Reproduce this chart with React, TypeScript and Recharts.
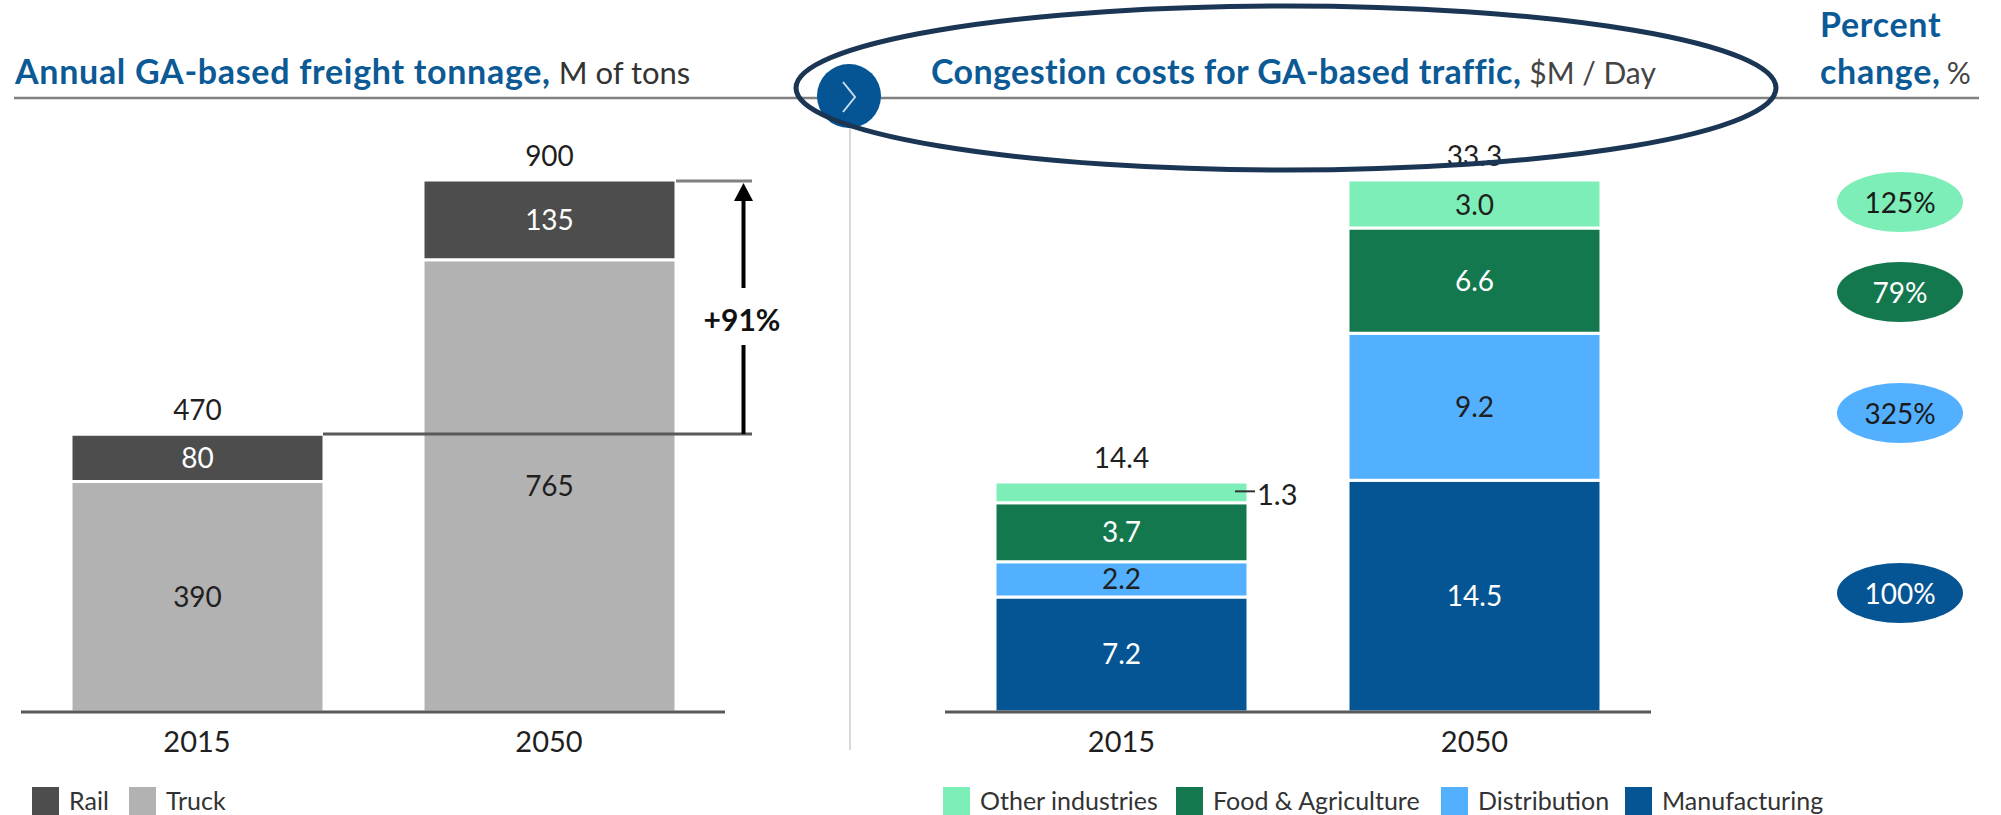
import { BarChart, Bar, XAxis, YAxis, LabelList, Legend } from 'recharts';

const FONT = 'Lato, "Noto Sans", sans-serif';

const years = ['2015', '2050'];

// left chart, M of tons
const truck = [390, 765];
const rail = [80, 135];
const tonnageTotals = [470, 900];

// right chart, $M / day
const manufacturing = [7.2, 14.5];
const distribution = [2.2, 9.2];
const food = [3.7, 6.6];
const other = [1.3, 3.0];
const costTotals = [14.4, 33.3];

const percentLabels = ['125%', '79%', '325%', '100%'];

const tonnageData = years.map((year, i) => ({
  year,
  truck: truck[i],
  rail: rail[i],
  total: tonnageTotals[i],
}));

const costData = years.map((year, i) => ({
  year,
  manufacturing: manufacturing[i],
  distribution: distribution[i],
  food: food[i],
  other: other[i],
  total: costTotals[i],
}));

const COLORS = {
  rail: '#4d4d4d',
  truck: '#b2b2b2',
  manufacturing: '#055493',
  distribution: '#52b0ff',
  food: '#13784e',
  other: '#7deeb7',
};

const bubbleColors = [COLORS.other, COLORS.food, COLORS.distribution, COLORS.manufacturing];
const bubbleText = ['#1a1a1a', '#ffffff', '#1a1a1a', '#ffffff'];
const bubbleY = [202, 292, 413, 593];

const TITLE_BLUE = '#0b5a96';
const TEXT = '#1f1f1f';

// value labels use one digit only on the right chart
const fmt = (v: any) => (typeof v === 'number' ? v.toFixed(1) : v);

function TotalLabel({ x, y, width, value }: any) {
  return (
    <text x={x + width / 2} y={y - 25} textAnchor="middle" dominantBaseline="central" fontSize={28} fontFamily={FONT} fill={TEXT}>
      {value}
    </text>
  );
}

// the 2015 "other" slice is too thin, its label sits outside with a leader
function OtherLabel({ x, y, width, height, value, index }: any) {
  if (index === 0) {
    return (
      <g>
        <line x1={x + width - 13} x2={x + width + 7} y1={y + height / 2 - 1} y2={y + height / 2 - 1} stroke="#333" strokeWidth={2} />
        <text x={x + width + 9} y={y + height / 2 + 1} dominantBaseline="central" fontSize={29} fontFamily={FONT} fill={TEXT}>
          {fmt(value)}
        </text>
      </g>
    );
  }
  return (
    <text x={x + width / 2} y={y + height / 2} textAnchor="middle" dominantBaseline="central" fontSize={28} fontFamily={FONT} fill={TEXT}>
      {fmt(value)}
    </text>
  );
}

function LegendRow({ items }: { items: { name: string; color: string; left: number }[] }) {
  return (
    <div style={{ position: 'relative', height: 28, fontFamily: FONT, fontSize: 25, color: '#333' }}>
      {items.map(item => (
        <div key={item.name} style={{ position: 'absolute', left: item.left, top: 0, height: 28, display: 'flex', alignItems: 'flex-start', whiteSpace: 'nowrap' }}>
          <span style={{ width: 27, height: 28, background: item.color, display: 'inline-block', marginRight: 10 }} />
          <span style={{ height: 26, lineHeight: '26px', display: 'inline-block' }}>{item.name}</span>
        </div>
      ))}
    </div>
  );
}

const leftLegend = [
  { name: 'Rail', color: COLORS.rail, left: 32 },
  { name: 'Truck', color: COLORS.truck, left: 129 },
];

const rightLegend = [
  { name: 'Other industries', color: COLORS.other, left: 43 },
  { name: 'Food & Agriculture', color: COLORS.food, left: 276 },
  { name: 'Distribution', color: COLORS.distribution, left: 541 },
  { name: 'Manufacturing', color: COLORS.manufacturing, left: 725 },
];

const axisTick = { fontSize: 29, fontFamily: FONT, fill: TEXT };
const inBar = (fill: string) => ({ fontSize: 28, fontFamily: FONT, fill });

export default function App() {
  return (
    <div style={{ position: 'fixed', left: 0, top: 0, width: 2001, height: 815, overflow: 'hidden', background: '#fff' }}>
      <div style={{ position: 'absolute', left: 0, top: 0 }}>
        <BarChart width={760} height={815} data={tonnageData} margin={{ top: 180, right: 35, bottom: 0, left: 21 }} barSize={253}>
          <XAxis dataKey="year" height={103} tickLine={false} tick={axisTick} tickMargin={13} stroke="#595959" strokeWidth={3} />
          <YAxis hide domain={[0, 900]} />
          <Legend
            layout="horizontal"
            verticalAlign="middle"
            wrapperStyle={{ position: 'absolute', left: 0, top: 787, width: 760 }}
            content={() => <LegendRow items={leftLegend} />}
          />
          <Bar dataKey="truck" stackId="a" fill={COLORS.truck} stroke="#fff" strokeWidth={3} isAnimationActive={false}>
            <LabelList dataKey="truck" position="center" style={inBar(TEXT)} />
          </Bar>
          <Bar dataKey="rail" stackId="a" fill={COLORS.rail} stroke="#fff" strokeWidth={3} isAnimationActive={false}>
            <LabelList dataKey="rail" position="center" style={inBar('#fff')} />
            <LabelList dataKey="total" content={TotalLabel} />
          </Bar>
        </BarChart>
      </div>

      <div style={{ position: 'absolute', left: 900, top: 0 }}>
        <BarChart width={800} height={815} data={costData} margin={{ top: 180, right: 49, bottom: 0, left: 45 }} barSize={253}>
          <XAxis dataKey="year" height={103} tickLine={false} tick={axisTick} tickMargin={13} stroke="#595959" strokeWidth={3} />
          <YAxis hide domain={[0, 33.3]} />
          <Legend
            layout="horizontal"
            verticalAlign="middle"
            wrapperStyle={{ position: 'absolute', left: 0, top: 787, width: 1000 }}
            content={() => <LegendRow items={rightLegend} />}
          />
          <Bar dataKey="manufacturing" stackId="a" fill={COLORS.manufacturing} stroke="#fff" strokeWidth={3} isAnimationActive={false}>
            <LabelList dataKey="manufacturing" position="center" formatter={fmt} style={inBar('#fff')} />
          </Bar>
          <Bar dataKey="distribution" stackId="a" fill={COLORS.distribution} stroke="#fff" strokeWidth={3} isAnimationActive={false}>
            <LabelList dataKey="distribution" position="center" formatter={fmt} style={inBar(TEXT)} />
          </Bar>
          <Bar dataKey="food" stackId="a" fill={COLORS.food} stroke="#fff" strokeWidth={3} isAnimationActive={false}>
            <LabelList dataKey="food" position="center" formatter={fmt} style={inBar('#fff')} />
          </Bar>
          <Bar dataKey="other" stackId="a" fill={COLORS.other} stroke="#fff" strokeWidth={3} isAnimationActive={false}>
            <LabelList dataKey="other" content={OtherLabel} />
            <LabelList dataKey="total" content={TotalLabel} />
          </Bar>
        </BarChart>
      </div>

      {/* headers, bracket, bubbles and the hand drawn ellipse */}
      <svg width={2001} height={815} style={{ position: 'absolute', left: 0, top: 0, pointerEvents: 'none' }} fontFamily={FONT}>
        <line x1={14} x2={1979} y1={98} y2={98} stroke="#808080" strokeWidth={2.5} />
        <line x1={850} x2={850} y1={128} y2={750} stroke="#d9d9d9" strokeWidth={2} />
        <circle cx={849} cy={96} r={32} fill={COLORS.manufacturing} />
        <polyline points="843,82 855,97 843,112" fill="none" stroke="#c9dcec" strokeWidth={2} />

        <text x={15} y={84} fontSize={34} fill={TITLE_BLUE} fontWeight={700} letterSpacing={0.7}>
          Annual GA-based freight tonnage,
          <tspan fontWeight={400} fill="#333" dx={8} fontSize={31} letterSpacing={0}>M of tons</tspan>
        </text>
        <text x={931} y={84} fontSize={34} fill={TITLE_BLUE} fontWeight={700} letterSpacing={0.4}>
          Congestion costs for GA-based traffic,
          <tspan fontWeight={400} fill="#444" dx={8} fontSize={30} letterSpacing={0}>$M / Day</tspan>
        </text>
        <text x={1820} y={37} fontSize={34} fill={TITLE_BLUE} fontWeight={700} letterSpacing={0.7}>Percent</text>
        <text x={1820} y={84} fontSize={34} fill={TITLE_BLUE} fontWeight={700} letterSpacing={0.7}>
          change,
          <tspan fontWeight={400} fill="#444" dx={6} fontSize={30} letterSpacing={0}>%</tspan>
        </text>

        {/* +91% bracket */}
        <line x1={676} x2={752} y1={181} y2={181} stroke="#808080" strokeWidth={3} />
        <line x1={323} x2={752} y1={434} y2={434} stroke="#595959" strokeWidth={3} />
        <line x1={743.5} x2={743.5} y1={198} y2={288} stroke="#000" strokeWidth={4} />
        <line x1={743.5} x2={743.5} y1={345} y2={434} stroke="#000" strokeWidth={4} />
        <polygon points="743.5,183 734,201 753,201" fill="#000" />
        <text x={742} y={319} textAnchor="middle" dominantBaseline="central" fontSize={30} fontWeight={700} fill="#111">+91%</text>

        {percentLabels.map((label, i) => (
          <g key={label}>
            <ellipse cx={1900} cy={bubbleY[i]} rx={63} ry={30} fill={bubbleColors[i]} />
            <text x={1900} y={bubbleY[i]} textAnchor="middle" dominantBaseline="central" fontSize={28} fill={bubbleText[i]}>{label}</text>
          </g>
        ))}

        <ellipse cx={1286} cy={88} rx={490} ry={82} fill="none" stroke="#1b3554" strokeWidth={5} />
      </svg>
    </div>
  );
}
